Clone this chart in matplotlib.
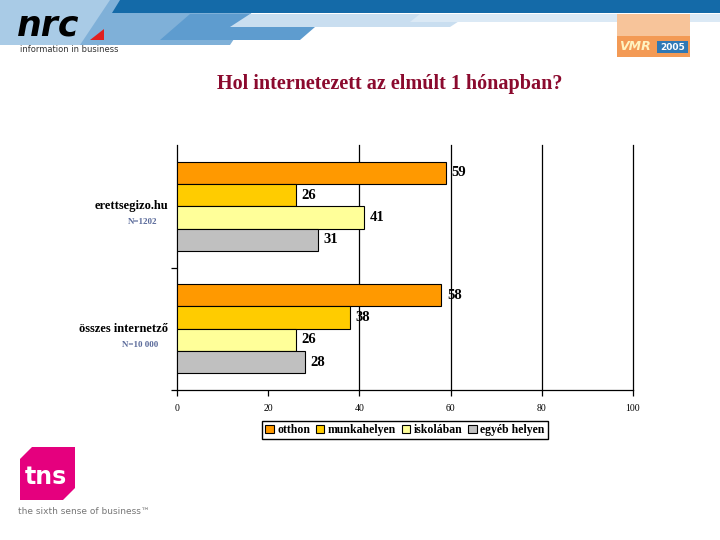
import matplotlib.pyplot as plt
from matplotlib.patches import Polygon, Rectangle

# data
groups = ['erettsegizo.hu', 'összes internetző']
group_n = ['N=1202', 'N=10 000']
series = ['otthon', 'munkahelyen', 'iskolában', 'egyéb helyen']
values = [
    [59, 58],   # otthon
    [26, 38],   # munkahelyen
    [41, 26],   # iskolában
    [31, 28],   # egyéb helyen
]
colors = ['#FF9900', '#FFCC00', '#FFFF99', '#C0C0C0']
xticks = [0, 20, 40, 60, 80, 100]
title = 'Hol internetezett az elmúlt 1 hónapban?'

serif = 'Liberation Serif'
W, H = 720, 540


def main():
    fig = plt.figure(figsize=(7.2, 5.4), dpi=100)

    # background / decoration layer in pixel coordinates
    bg = fig.add_axes([0, 0, 1, 1], zorder=0)
    bg.set_xlim(0, W)
    bg.set_ylim(H, 0)
    bg.axis('off')

    # header band
    bg.add_patch(Polygon([(0, 0), (150, 0), (120, 45), (0, 45)], color='#a9cbe6', lw=0))
    bg.add_patch(Polygon([(110, 0), (260, 0), (230, 45), (80, 45)], color='#7fb0d8', lw=0))
    bg.add_patch(Polygon([(190, 14), (330, 14), (300, 40), (160, 40)], color='#5e9ccf', lw=0))
    bg.add_patch(Polygon([(250, 14), (470, 14), (450, 27), (230, 27)], color='#c9def0', lw=0))
    bg.add_patch(Polygon([(420, 14), (720, 14), (720, 22), (410, 22)], color='#dbe9f5', lw=0))
    bg.add_patch(Polygon([(120, 0), (720, 0), (720, 13), (112, 13)], color='#146aa8', lw=0))

    # nrc logo
    bg.text(17, 42, 'nrc', fontsize=25, fontweight='bold', style='italic',
            color='black', family='DejaVu Sans', va='bottom')
    bg.add_patch(Polygon([(90, 40), (104, 40), (104, 29)], color='#e02020', lw=0))
    bg.text(20, 50, 'information in business', fontsize=6, color='#333333', va='center')

    # VMR logo
    bg.add_patch(Rectangle((617, 14), 73, 43, color='#f39a55', lw=0))
    bg.add_patch(Rectangle((617, 14), 73, 22, color='#f7c49a', lw=0))
    bg.text(619, 47, 'VMR', fontsize=9, fontweight='bold', style='italic',
            color='#fff3c0', va='center')
    bg.add_patch(Rectangle((657, 41), 31, 12, color='#2f78b5', lw=0))
    bg.text(672.5, 47, '2005', fontsize=6.5, fontweight='bold', color='white',
            ha='center', va='center')

    # tns logo
    bg.add_patch(Polygon([(32, 447), (75, 447), (75, 488), (63, 500),
                          (20, 500), (20, 459)], color='#e5007e', lw=0))
    bg.text(46, 477, 'tns', fontsize=17, fontweight='bold', color='white',
            ha='center', va='center')
    bg.text(18, 512, 'the sixth sense of business\u2122', fontsize=6.5,
            color='#777777', va='center')

    # title
    bg.text(390, 84, title, fontsize=14.5, fontweight='bold', family=serif,
            color='#8B0A2E', ha='center', va='center')

    # main chart
    left, right, top, bottom = 177, 633, 145, 390
    ax = fig.add_axes([left / W, 1 - bottom / H, (right - left) / W, (bottom - top) / H],
                      zorder=1)
    ax.patch.set_alpha(0)

    bar_h = 0.182
    for i, (name, vals, c) in enumerate(zip(series, values, colors)):
        pos = [g - 1.5 * bar_h + i * bar_h for g in range(len(groups))]
        bars = ax.barh(pos, vals, height=bar_h, color=c, edgecolor='black',
                       linewidth=0.8, label=name, zorder=3)
        ax.bar_label(bars, padding=4, fontsize=10.5, fontweight='bold',
                     family=serif, zorder=4)

    ax.set_ylim(1.5, -0.5)
    ax.set_xlim(0, 100)
    for x in [40, 60, 80, 100]:
        ax.axvline(x, color='black', linewidth=0.9, zorder=1, clip_on=False)

    ax.spines['top'].set_visible(False)
    ax.spines['right'].set_visible(False)
    ax.spines['left'].set_linewidth(0.9)
    ax.spines['bottom'].set_linewidth(0.9)

    ax.set_xticks(xticks)
    ax.set_xticklabels([str(t) for t in xticks], family=serif, fontsize=7)
    ax.set_yticks([0.5, 1.5])
    ax.set_yticklabels([])
    ax.tick_params(axis='both', direction='out', length=4, width=0.9, pad=6)

    for g, (name, n) in enumerate(zip(groups, group_n)):
        ax.text(-0.02, g, name, transform=ax.get_yaxis_transform(),
                ha='right', va='center', fontsize=9, fontweight='bold', family=serif)
        ax.text(-0.042, g + 0.13, n, transform=ax.get_yaxis_transform(),
                ha='right', va='center', fontsize=6.5, fontweight='bold',
                family=serif, color='#5a6a9a')

    fig.legend(loc='center', bbox_to_anchor=(405 / W, 1 - 430 / H), ncol=4,
               prop={'family': serif, 'weight': 'bold', 'size': 8.5},
               frameon=True, fancybox=False, edgecolor='black', framealpha=1,
               handlelength=0.7, handleheight=0.7, handletextpad=0.3,
               columnspacing=0.5, borderpad=0.25, borderaxespad=0)

    fig.savefig('out.png', dpi=100)


if __name__ == "__main__":
    main()
